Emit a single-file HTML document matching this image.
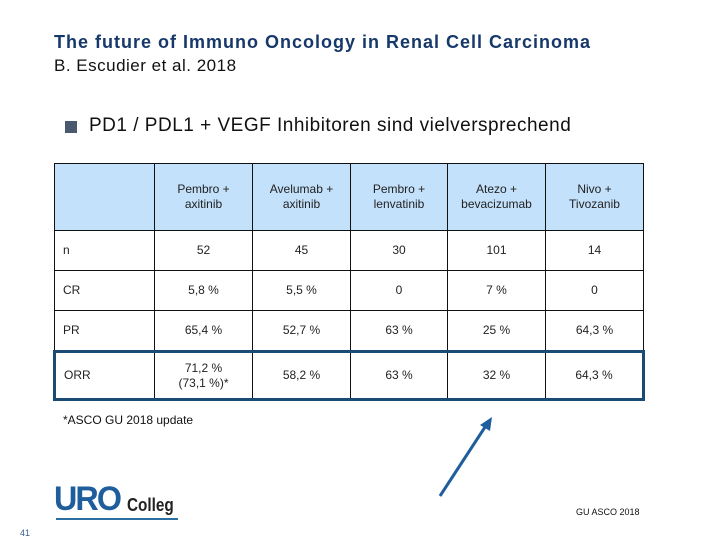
<!DOCTYPE html>
<html><head><meta charset="utf-8"><style>
body{margin:0;width:720px;height:540px;background:#fff;position:relative;overflow:hidden;font-family:"Liberation Sans",sans-serif}
.a{position:absolute;white-space:nowrap}
table{position:absolute;left:53px;top:163px;border-collapse:collapse;font-size:12px;color:#222}
td{border:1.5px solid #111;text-align:center;padding:0;line-height:15px}
td.l{text-align:left;padding-left:8px}
tr.h td{background:#c3e1fb;height:66px}
tr.r td{height:39px}
tr.o td{height:45px;border-top:3px solid #1b4a72;border-bottom:3px solid #1b4a72}
tr.o td:first-child{border-left:3px solid #1b4a72}
tr.o td:last-child{border-right:3px solid #1b4a72}
</style></head><body>
<div class="a" style="left:54px;top:32px;font-size:18px;font-weight:bold;letter-spacing:1px;color:#16386a">The future of Immuno Oncology in Renal Cell Carcinoma</div>
<div class="a" style="left:54px;top:56px;font-size:17px;letter-spacing:0.5px;color:#111">B. Escudier et al. 2018</div>
<div class="a" style="left:65px;top:121px;width:12px;height:12px;background:#4a5a6e"></div>
<div class="a" style="left:89px;top:115px;font-size:19px;letter-spacing:0.5px;color:#111">PD1 / PDL1 + VEGF Inhibitoren sind vielversprechend</div>
<table>
<colgroup><col style="width:100px"><col style="width:98px"><col style="width:98px"><col style="width:97px"><col style="width:98px"><col style="width:98px"></colgroup>
<tr class="h"><td></td><td>Pembro +<br>axitinib</td><td>Avelumab +<br>axitinib</td><td>Pembro +<br>lenvatinib</td><td>Atezo +<br>bevacizumab</td><td>Nivo +<br>Tivozanib</td></tr>
<tr class="r"><td class="l">n</td><td>52</td><td>45</td><td>30</td><td>101</td><td>14</td></tr>
<tr class="r"><td class="l">CR</td><td>5,8 %</td><td>5,5 %</td><td>0</td><td>7 %</td><td>0</td></tr>
<tr class="r"><td class="l">PR</td><td>65,4 %</td><td>52,7 %</td><td>63 %</td><td>25 %</td><td>64,3 %</td></tr>
<tr class="o"><td class="l">ORR</td><td>71,2 %<br>(73,1 %)*</td><td>58,2 %</td><td>63 %</td><td>32 %</td><td>64,3 %</td></tr>
</table>
<div class="a" style="left:63px;top:413px;font-size:12px;color:#111">*ASCO GU 2018 update</div>
<svg class="a" style="left:0;top:0" width="720" height="540">
<line x1="440" y1="496" x2="487" y2="424" stroke="#1f5e9c" stroke-width="3"/>
<polygon points="492,417 490,431 480,425" fill="#1f5e9c"/>
</svg>
<div class="a" style="left:54px;top:480px;font-size:34px;font-weight:bold;color:#1f5e9c;letter-spacing:-2px;transform:scaleX(.95);transform-origin:left">URO</div>
<div class="a" style="left:127px;top:495px;font-size:18px;font-weight:bold;color:#222;transform:scaleX(.85);transform-origin:left">Colleg</div>
<div class="a" style="left:56px;top:518px;width:122px;height:2px;background:#2a6fa0"></div>
<div class="a" style="left:576px;top:507px;font-size:9px;color:#111">GU ASCO 2018</div>
<div class="a" style="left:20px;top:528px;font-size:9px;color:#3a5f8a">41</div>
</body></html>
